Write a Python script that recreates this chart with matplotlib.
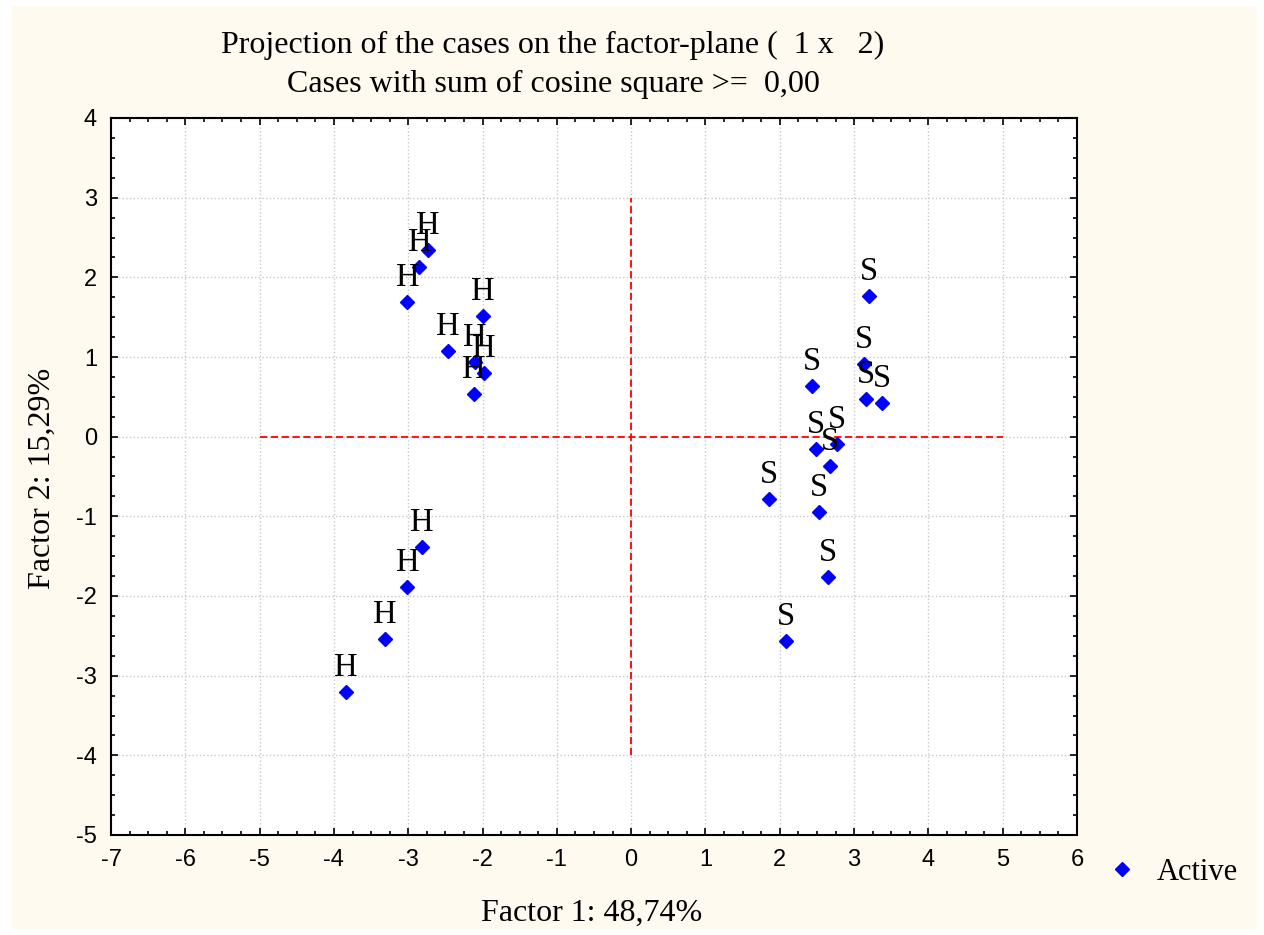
import matplotlib
matplotlib.use('Agg')
import matplotlib.pyplot as plt
from matplotlib.patches import Rectangle
from matplotlib.ticker import MultipleLocator

# Factor coordinates of the cases
h_factor1 = [-2.73, -2.85, -3.01, -2.00, -2.47, -2.10, -1.98, -2.12,
             -2.82, -3.01, -3.31, -3.84]
h_factor2 = [2.34, 2.13, 1.69, 1.52, 1.08, 0.94, 0.80, 0.54,
             -1.39, -1.89, -2.54, -3.21]
s_factor1 = [3.20, 3.13, 2.43, 3.16, 3.38, 2.49, 2.77, 2.68,
             1.85, 2.53, 2.65, 2.08]
s_factor2 = [1.77, 0.91, 0.64, 0.47, 0.42, -0.15, -0.09, -0.37,
             -0.78, -0.94, -1.76, -2.56]
h_labels = ['H'] * len(h_factor1)
s_labels = ['S'] * len(s_factor1)

title_lines = ['Projection of the cases on the factor-plane (  1 x   2)',
               'Cases with sum of cosine square >=  0,00']
x_label = 'Factor 1: 48,74%'
y_label = 'Factor 2: 15,29%'

SERIF = 'Liberation Serif'
SANS = 'Liberation Sans'
plt.rcParams['axes.unicode_minus'] = False


def main():
    fig = plt.figure(figsize=(12.64, 9.35), dpi=100, facecolor='white')
    W, H = 1264, 935
    # cream panel behind everything
    fig.patches.append(Rectangle((12 / W, 6 / H), (1257 - 12) / W, (929 - 6) / H,
                                 transform=fig.transFigure, facecolor='#fffaf0',
                                 edgecolor='none', zorder=-5))

    ax = fig.add_axes([111 / W, 1 - 835 / H, 966 / W, 717 / H])
    ax.set_facecolor('white')

    x_all = h_factor1 + s_factor1
    y_all = h_factor2 + s_factor2
    labels = h_labels + s_labels
    ax.plot(x_all, y_all, linestyle='none', marker='D', markersize=7.2,
            color='#0000ff', label='Active', zorder=4)
    for x, y, t in zip(x_all, y_all, labels):
        ax.annotate(t, (x, y), xytext=(0, 11.5), textcoords='offset points',
                    ha='center', va='baseline', fontsize=23.5, family=SERIF,
                    zorder=5)

    # origin cross-hairs
    ax.plot([-5, 5], [0, 0], color='#ff0000', lw=1.3, dashes=(4, 2), zorder=3)
    ax.plot([0, 0], [-4, 3], color='#ff0000', lw=1.3, dashes=(4, 2), zorder=3)

    ax.set_xlim(-7, 6)
    ax.set_ylim(-5, 4)
    ax.xaxis.set_major_locator(MultipleLocator(1))
    ax.yaxis.set_major_locator(MultipleLocator(1))
    ax.xaxis.set_minor_locator(MultipleLocator(0.25))
    ax.yaxis.set_minor_locator(MultipleLocator(0.25))
    ax.grid(True, which='major', color='#c8c8c8', linestyle=':', lw=1, zorder=1)
    ax.tick_params(which='both', direction='in', top=True, right=True,
                   width=1.2, color='black')
    ax.tick_params(which='major', length=5, labelsize=17, pad=10)
    ax.tick_params(which='minor', length=3)
    for lab in ax.get_xticklabels() + ax.get_yticklabels():
        lab.set_family(SANS)
    for sp in ax.spines.values():
        sp.set_linewidth(1.5)

    fig.text(553 / W, 1 - 45 / H, title_lines[0], ha='center', va='center',
             fontsize=23, family=SERIF)
    fig.text(553 / W, 1 - 84 / H, title_lines[1], ha='center', va='center',
             fontsize=23, family=SERIF)
    fig.text(592 / W, 1 - 913 / H, x_label, ha='center', va='center',
             fontsize=23, family=SERIF)
    fig.text(42 / W, 1 - 478 / H, y_label, ha='center', va='center',
             rotation=90, fontsize=23, family=SERIF)

    ax.legend(loc='center left', bbox_to_anchor=(1105 / W, 1 - 872 / H),
              bbox_transform=fig.transFigure, frameon=False,
              prop={'family': SERIF, 'size': 22}, handlelength=1.1,
              handletextpad=0.6, borderaxespad=0, borderpad=0)

    fig.savefig('out.png', dpi=100, facecolor=fig.get_facecolor())


if __name__ == "__main__": main()
